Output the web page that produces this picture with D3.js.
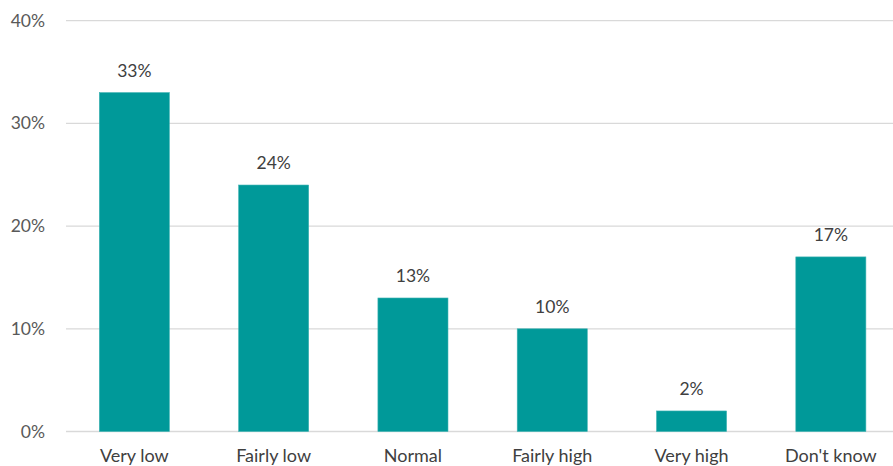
<!DOCTYPE html>
<html><head><meta charset="utf-8">
<script src="https://cdn.jsdelivr.net/npm/d3@7"></script>
<style>body{margin:0;background:#fff}svg{display:block}text{font-family:Lato,"Open Sans",sans-serif}</style>
</head><body><svg id="c" width="893" height="466"></svg>
<script>
const categories = ["Very low","Fairly low","Normal","Fairly high","Very high","Don't know"];
const values = [33,24,13,10,2,17];
const yTicks = [0,10,20,30,40];

const svg = d3.select("#c");
const x = d3.scaleBand().domain(categories).range([64.7, 900.5]).paddingInner(0.497).paddingOuter(0.2485);
const y = d3.scaleLinear().domain([0,40]).range([431.5, 20.7]);

svg.append("g").selectAll("line").data(yTicks).join("line")
  .attr("x1",66).attr("x2",893).attr("y1",d=>y(d)).attr("y2",d=>y(d))
  .attr("stroke","#d9d9d9").attr("stroke-width",1.3);

svg.append("g").selectAll("text").data(yTicks).join("text")
  .attr("x",45).attr("y",d=>y(d)+6).attr("text-anchor","end")
  .attr("font-size",17.5).attr("fill","#595959").text(d=>d+"%");

svg.append("g").selectAll("rect").data(values).join("rect")
  .attr("x",(d,i)=>x(categories[i])).attr("width",x.bandwidth())
  .attr("y",d=>y(d)).attr("height",d=>y(0)-y(d))
  .attr("fill","#009999").attr("stroke","#3fb3b3").attr("stroke-width",0.6);

svg.append("g").selectAll("text").data(values).join("text")
  .attr("x",(d,i)=>x(categories[i])+x.bandwidth()/2).attr("y",d=>y(d)-16)
  .attr("text-anchor","middle").attr("font-size",17.5).attr("fill","#404040").text(d=>d+"%");

svg.append("g").selectAll("text").data(categories).join("text")
  .attr("x",d=>x(d)+x.bandwidth()/2).attr("y",462)
  .attr("text-anchor","middle").attr("font-size",18).attr("fill","#404040").text(d=>d);
</script></body></html>
